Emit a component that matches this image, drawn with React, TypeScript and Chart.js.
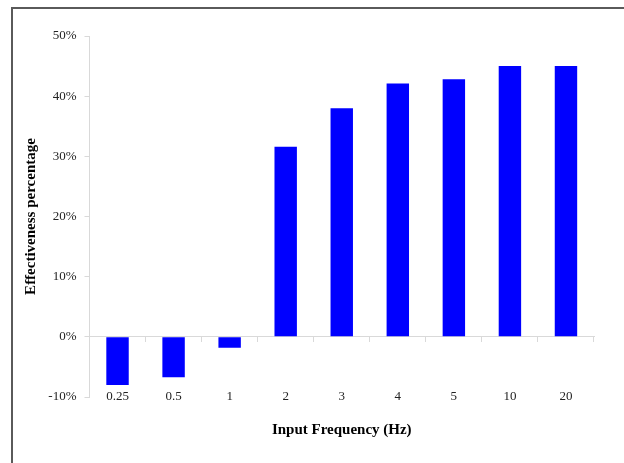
import React, { useEffect, useRef } from "react";
import { Chart, registerables } from "chart.js";

Chart.register(...registerables);

const categories = ["0.25", "0.5", "1", "2", "3", "4", "5", "10", "20"];
const effectiveness = [-8.0, -6.7, -1.8, 31.6, 38.0, 42.1, 42.8, 45.0, 45.0];
const yTicks = [-10, 0, 10, 20, 30, 40, 50];
const yTitle = "Effectiveness percentage";
const xTitle = "Input Frequency (Hz)";

const SERIF = "'Liberation Serif', 'Times New Roman', serif";
const AXIS_GRAY = "#d9d9d9";
const TICK_COLOR = "#222";

export default function App() {
  const ref = useRef<HTMLCanvasElement | null>(null);

  useEffect(() => {
    if (!ref.current) return;
    const chart = new Chart(ref.current, {
      type: "bar",
      data: {
        labels: categories,
        datasets: [
          {
            data: effectiveness,
            backgroundColor: "#0000ff",
            borderWidth: 0,
            barPercentage: 0.4,
            categoryPercentage: 1,
            xAxisID: "x",
          },
        ],
      },
      options: {
        responsive: false,
        animation: false,
        layout: { padding: { left: 18, top: 36, right: 30, bottom: 20 } },
        plugins: { legend: { display: false }, tooltip: { enabled: false } },
        scales: {
          x: {
            type: "category",
            position: "bottom",
            grid: { display: false, drawTicks: false },
            border: { display: false },
            ticks: { display: false },
            title: {
              display: true,
              text: xTitle,
              color: "#000",
              font: { family: SERIF, size: 15, weight: "bold" },
            },
            afterFit: (s: any) => {
              s.height = 46;
            },
          },
          xLabels: {
            type: "category",
            labels: categories,
            position: { y: -10 } as any,
            offset: true,
            grid: { display: false, drawTicks: false },
            border: { display: false },
            ticks: {
              padding: -8,
              color: TICK_COLOR,
              font: { family: SERIF, size: 13 },
              maxRotation: 0,
            },
          },
          xZero: {
            type: "category",
            labels: categories,
            position: { y: 0 } as any,
            offset: true,
            grid: {
              offset: true,
              drawOnChartArea: false,
              drawTicks: true,
              tickLength: 5,
              color: AXIS_GRAY,
            },
            border: { display: true, color: AXIS_GRAY, width: 1 },
            ticks: { display: false },
          },
          y: {
            min: -10,
            max: 50,
            afterBuildTicks: (s: any) => {
              s.ticks = yTicks.map((v) => ({ value: v }));
            },
            grid: {
              drawOnChartArea: false,
              drawTicks: true,
              tickLength: 5,
              color: AXIS_GRAY,
            },
            border: { display: true, color: AXIS_GRAY, width: 1 },
            ticks: {
              padding: 8,
              color: TICK_COLOR,
              font: { family: SERIF, size: 13 },
              callback: (v: any) => `${v}%`,
            },
            title: {
              display: true,
              text: yTitle,
              color: "#000",
              font: { family: SERIF, size: 15, weight: "bold" },
            },
            afterFit: (s: any) => {
              s.width = 71.5;
            },
          },
        },
      },
    });
    return () => chart.destroy();
  }, []);

  return (
    <div
      style={{
        position: "fixed",
        left: 0,
        top: 0,
        width: 624,
        height: 463,
        overflow: "hidden",
        background: "#fff",
      }}
    >
      <div
        style={{
          position: "absolute",
          left: 11,
          top: 7,
          width: 800,
          height: 800,
          borderLeft: "2px solid #5a5a5a",
          borderTop: "2px solid #5a5a5a",
        }}
      />
      <canvas
        ref={ref}
        width={624}
        height={463}
        style={{ position: "absolute", left: 0, top: 0 }}
      />
    </div>
  );
}
